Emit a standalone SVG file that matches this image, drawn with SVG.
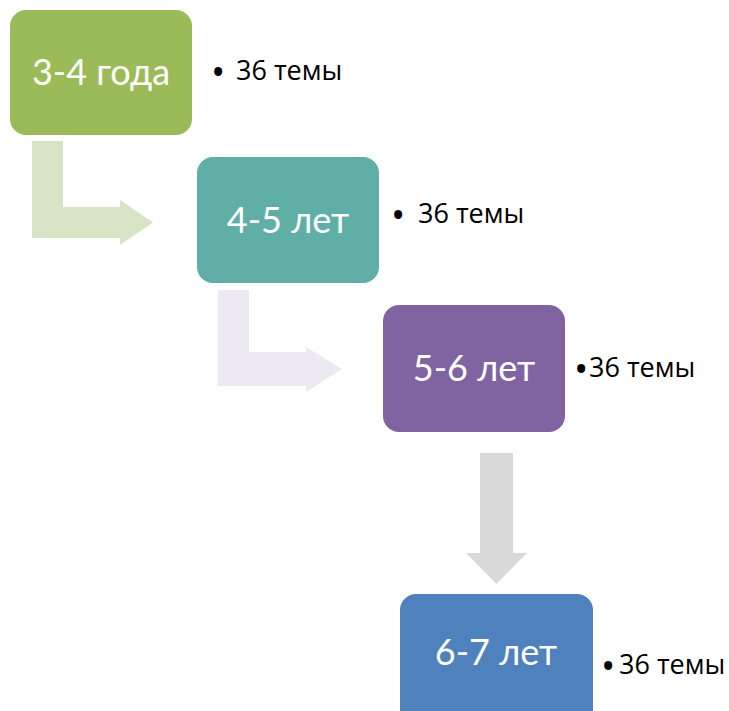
<svg xmlns="http://www.w3.org/2000/svg" width="729" height="711" viewBox="0 0 729 711">
<style>
.box text{font-family:Lato,"Open Sans","Liberation Sans",sans-serif;font-size:36px;fill:#fff;text-anchor:middle}
.note{font-family:"Open Sans","Noto Sans","Liberation Sans",sans-serif;font-size:27px;fill:#000}
.b{font-size:38px}
</style>
<rect width="729" height="711" fill="#fff"/>
<g id="connectors">
<path id="arrow1" d="M32 141H63V207H120V200L153 222.5L120 245V238H32Z" fill="#D7E3C5"/>
<path id="arrow2" d="M218 290H249V352H306V347L342 369L306 392V386H218Z" fill="#ECEAF0"/>
<path id="arrow3" d="M480 453H513V553H527L496.5 584L466 553H480Z" fill="#D9D9D9"/>
</g>
<g id="node1" class="box">
<rect x="10" y="10" width="182" height="125" rx="16" fill="#9BBB59"/>
<text x="101" y="85">3-4 года</text>
</g>
<g id="note1"><text class="note" x="211" y="86"><tspan class="b">•</tspan><tspan x="236" y="80">36 темы</tspan></text></g>
<g id="node2" class="box">
<rect x="197" y="157" width="182" height="126" rx="16" fill="#5FAFA6"/>
<text x="288" y="233">4-5 лет</text>
</g>
<g id="note2"><text class="note" x="391" y="229"><tspan class="b">•</tspan><tspan x="418" y="223">36 темы</tspan></text></g>
<g id="node3" class="box">
<rect x="383" y="305" width="182" height="127" rx="16" fill="#8064A2"/>
<text x="474" y="381">5-6 лет</text>
</g>
<g id="note3"><text class="note" x="574" y="383"><tspan class="b">•</tspan><tspan x="589" y="377">36 темы</tspan></text></g>
<g id="node4" class="box">
<rect x="400" y="594" width="193" height="140" rx="16" fill="#4F81BD"/>
<text x="496" y="665">6-7 лет</text>
</g>
<g id="note4"><text class="note" x="601" y="680"><tspan class="b">•</tspan><tspan x="619" y="674">36 темы</tspan></text></g>
</svg>
